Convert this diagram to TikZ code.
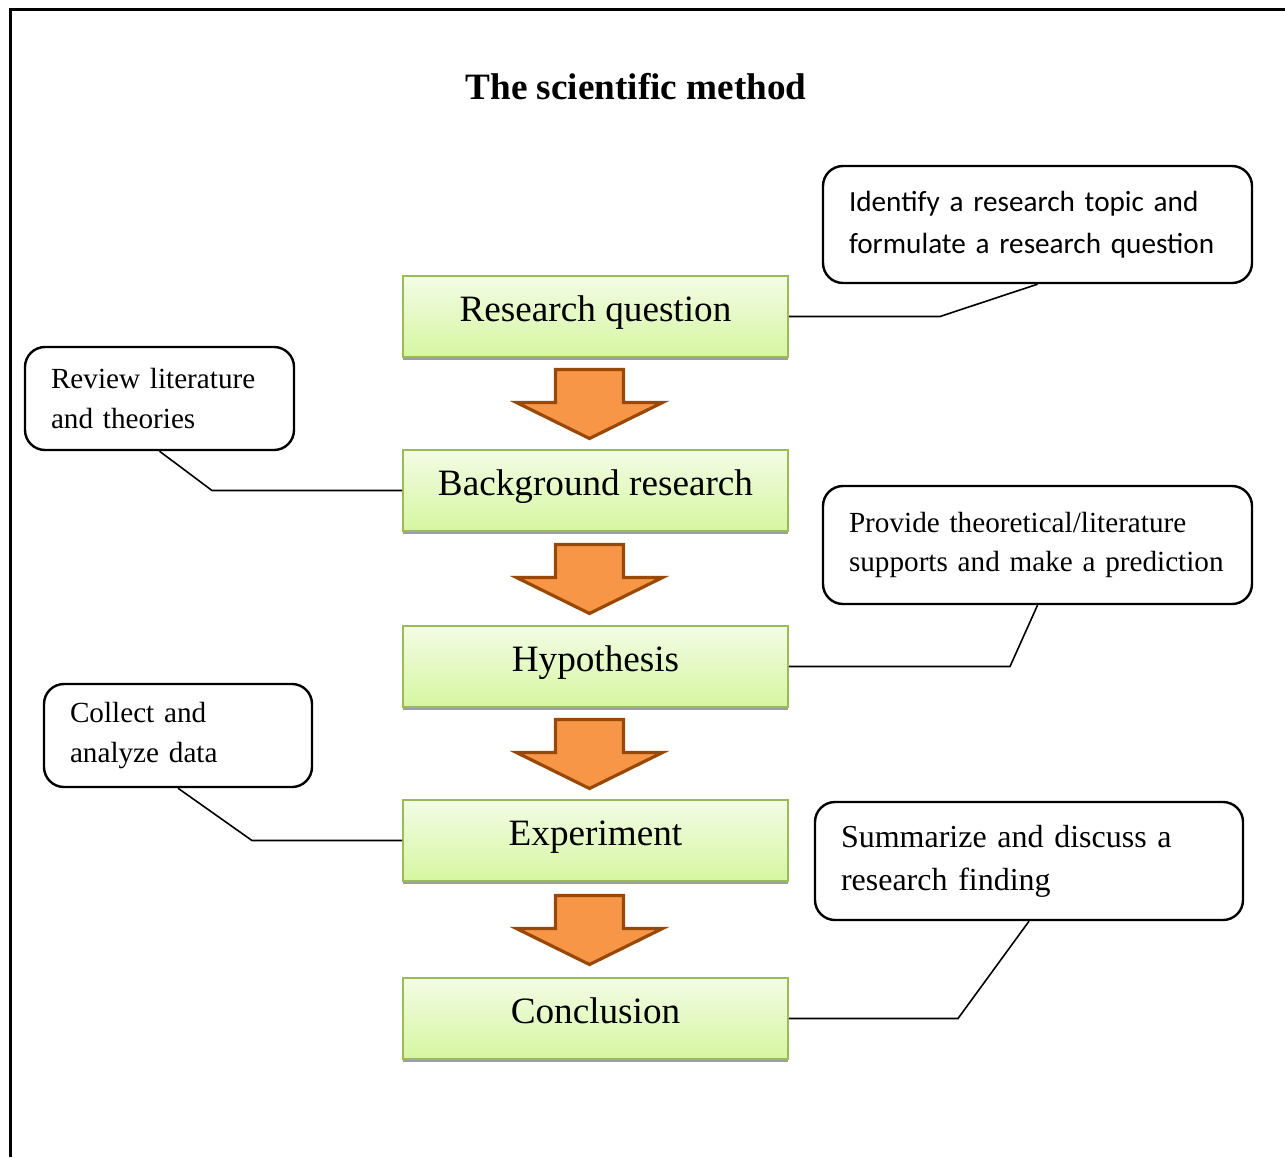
\documentclass[tikz,border=0pt]{standalone}
\usepackage{fontspec}
\setmainfont{Liberation Serif}
\newfontfamily\calfont{Carlito}
\usetikzlibrary{calc,shadows}
\definecolor{boxtop}{RGB}{243,252,230}
\definecolor{boxbot}{RGB}{214,246,160}
\definecolor{boxline}{RGB}{155,187,89}
\definecolor{arrfill}{RGB}{247,150,70}
\definecolor{arrline}{RGB}{152,72,7}

\begin{document}
\begin{tikzpicture}[x=0.5pt,y=-0.5pt]
\tikzstyle{stepbox}=[rectangle, draw=boxline, line width=1pt, top color=boxtop, bottom color=boxbot,
    minimum width=192.5pt, minimum height=40.5pt, text height=12.6pt, text depth=8pt,
    font=\fontsize{18.6}{22}\selectfont,
    drop shadow={shadow xshift=0pt, shadow yshift=-1.6pt, fill=black!38, opacity=1}]
\tikzstyle{note}=[rectangle, draw, rounded corners=10pt, line width=1.2pt, align=left,
    inner xsep=13pt, inner ysep=0pt, font=\fontsize{14.6}{19.8}\selectfont]
\tikzstyle{bigarrow}=[fill=arrfill, draw=arrline, line width=1.6pt, line join=miter]
\tikzstyle{tie}=[line width=0.8pt]

    \useasboundingbox (0,0) rectangle (1285,1157);
    \draw[line width=1.5pt] (1285,9) -- (10,9) -- (10,1157);

    \node[font=\fontsize{18.6}{22}\selectfont\bfseries] (title) at (636,87) {The scientific method};

    \node[stepbox] (s1) at (595.5,316.5) {Research question};
    \node[stepbox] (s2) at (595.5,490.5) {Background research};
    \node[stepbox] (s3) at (595.5,666.5) {Hypothesis};
    \node[stepbox] (s4) at (595.5,840.5) {Experiment};
    \node[stepbox] (s5) at (595.5,1018.5) {Conclusion};

\foreach \a/\b in {s1/s2,s2/s3,s3/s4,s4/s5}{
    \coordinate (m) at ($(\a.south)!0.5!(\b.north)+(-6,2)$);
    \draw[bigarrow] ($(m)+(-34,-36)$) -- ($(m)+(34,-36)$) -- ($(m)+(34,-3)$) -- ($(m)+(73,-3)$)
        -- ($(m)+(0,33)$) -- ($(m)+(-73,-3)$) -- ($(m)+(-34,-3)$) -- cycle;
}

    \node[note, font=\calfont\fontsize{14.6}{21}\selectfont, text width=188.5pt, minimum width=214.5pt,
        minimum height=58.5pt] (c1) at (1037.5,224.5) {Identify a research topic and\\formulate a research question};
    \node[note, text width=108.5pt, minimum width=134.5pt, minimum height=51.5pt] (c2) at (159.5,398.5)
        {Review literature\\and theories};
    \node[note, text width=188.5pt, minimum width=214.5pt, minimum height=59pt] (c3) at (1037.5,545)
        {Provide theoretical/literature\\supports and make a prediction};
    \node[note, text width=108pt, minimum width=134pt, minimum height=51.5pt] (c4) at (178,735.5)
        {Collect and\\analyze data};
    \node[note, font=\fontsize{16}{21.5}\selectfont, text width=188pt, minimum width=214pt,
        minimum height=59pt] (c5) at (1029,861) {Summarize and discuss a\\research finding};

    \coordinate (b1) at (940,316.5);
    \coordinate (b2) at (212,490.5);
    \coordinate (b3) at (1010,666.5);
    \coordinate (b4) at (252,840.5);
    \coordinate (b5) at (958,1018.5);

    \draw[tie] (c1.south) -- (b1) -- (s1.east);
    \draw[tie] (c2.south) -- (b2) -- (s2.west);
    \draw[tie] (c3.south) -- (b3) -- (s3.east);
    \draw[tie] (c4.south) -- (b4) -- (s4.west);
    \draw[tie] (c5.south) -- (b5) -- (s5.east);
\end{tikzpicture}
\end{document}
